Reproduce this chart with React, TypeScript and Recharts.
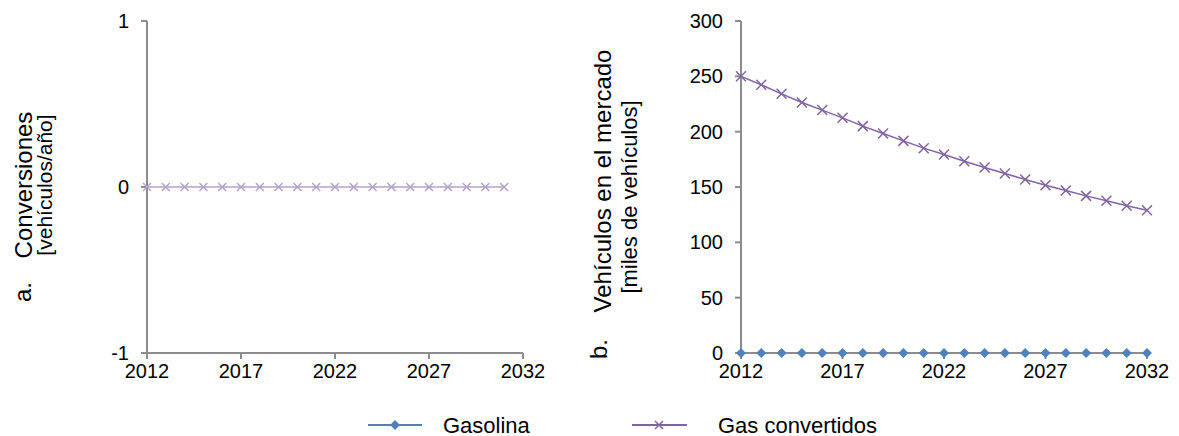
import React from 'react';
import { LineChart, Line, XAxis, YAxis } from 'recharts';

const conversionYears = [
  2012, 2013, 2014, 2015, 2016, 2017, 2018, 2019, 2020, 2021,
  2022, 2023, 2024, 2025, 2026, 2027, 2028, 2029, 2030, 2031,
];
const conversions = [0, 0, 0, 0, 0, 0, 0, 0, 0, 0, 0, 0, 0, 0, 0, 0, 0, 0, 0, 0];

const marketYears = [
  2012, 2013, 2014, 2015, 2016, 2017, 2018, 2019, 2020, 2021,
  2022, 2023, 2024, 2025, 2026, 2027, 2028, 2029, 2030, 2031, 2032,
];
const gasolina = [0, 0, 0, 0, 0, 0, 0, 0, 0, 0, 0, 0, 0, 0, 0, 0, 0, 0, 0, 0, 0];
const gasConvertidos = [
  250, 242.4, 234.2, 226.4, 219.5, 212.5, 205, 198.4, 191.7, 185.1,
  179.4, 173.3, 167.6, 162.2, 156.8, 151.6, 146.8, 142, 137.5, 133, 129,
];

const yearTicks = [2012, 2017, 2022, 2027, 2032];
const leftTicks = [-1, 0, 1];
const rightTicks = [0, 50, 100, 150, 200, 250, 300];

const leftData = conversionYears.map((year, i) => ({ year, conv: conversions[i] }));
const rightData = marketYears.map((year, i) => ({
  year,
  gasolina: gasolina[i],
  convertidos: gasConvertidos[i],
}));

const FONT = '"Liberation Sans", Arial, sans-serif';
const AXIS = '#8c8c8c';
const BLUE = '#4f81bd';
const PURPLE = '#8064a2';
const LAVENDER = '#b3a2c7';

const cross = (color: string, r: number) => (props: any) => {
  const { cx, cy, index } = props;
  if (cx == null || cy == null) return <g key={index} />;
  return (
    <path
      key={index}
      d={`M${cx - r},${cy - r}L${cx + r},${cy + r}M${cx - r},${cy + r}L${cx + r},${cy - r}`}
      stroke={color}
      strokeWidth={1.5}
      fill="none"
    />
  );
};

const diamond = (color: string, r: number) => (props: any) => {
  const { cx, cy, index } = props;
  if (cx == null || cy == null) return <g key={index} />;
  return (
    <polygon
      key={index}
      points={`${cx},${cy - r} ${cx + r},${cy} ${cx},${cy + r} ${cx - r},${cy}`}
      fill={color}
    />
  );
};

const tickStyle = { fontSize: 20, fill: '#000', fontFamily: FONT };

// axis titles sit at fixed spots in each chart's svg
const LeftTitle = () => (
  <g fontFamily={FONT} fill="#000">
    <text transform="translate(31,292) rotate(-90)" textAnchor="middle" fontSize={24}>a.</text>
    <text transform="translate(32,185) rotate(-90)" textAnchor="middle" fontSize={24}>Conversiones</text>
    <text transform="translate(52,185) rotate(-90)" textAnchor="middle" fontSize={21}>[vehículos/año]</text>
  </g>
);

const RightTitle = () => (
  <g fontFamily={FONT} fill="#000">
    <text transform="translate(47,349) rotate(-90)" textAnchor="middle" fontSize={24}>b.</text>
    <text transform="translate(51,181) rotate(-90)" textAnchor="middle" fontSize={24}>Vehículos en el mercado</text>
    <text transform="translate(77,197) rotate(-90)" textAnchor="middle" fontSize={22}>[miles de vehículos]</text>
  </g>
);

const Legend = () => (
  <svg width={1179} height={40} style={{ position: 'absolute', left: 0, top: 406 }}>
    <g fontFamily={FONT} fontSize={22} fill="#000">
      <line x1={368} y1={19} x2={422} y2={19} stroke={BLUE} strokeWidth={2} />
      <polygon points="395,14 400,19 395,24 390,19" fill={BLUE} />
      <text x={443} y={27}>Gasolina</text>
      <line x1={632} y1={19} x2={687} y2={19} stroke={PURPLE} strokeWidth={2} />
      <path d="M655,15L663,23M655,23L663,15" stroke={PURPLE} strokeWidth={1.5} />
      <text x={718} y={27}>Gas convertidos</text>
    </g>
  </svg>
);

export default function App() {
  return (
    <div style={{ position: 'absolute', left: 0, top: 0, width: 1179, height: 436, background: '#fff' }}>
      <div style={{ position: 'absolute', left: 0, top: 0 }}>
        <LineChart width={560} height={400} data={leftData} margin={{ top: 21, right: 37, bottom: 0, left: 0 }}>
          <XAxis
            dataKey="year"
            type="number"
            domain={[2012, 2032]}
            ticks={yearTicks}
            height={47}
            tick={tickStyle}
            tickMargin={5}
            axisLine={{ stroke: AXIS, strokeWidth: 2 }}
            tickLine={{ stroke: AXIS, strokeWidth: 2 }}
          />
          <YAxis
            type="number"
            domain={[-1, 1]}
            ticks={leftTicks}
            width={147}
            tick={tickStyle}
            tickMargin={12}
            axisLine={{ stroke: AXIS, strokeWidth: 2 }}
            tickLine={{ stroke: AXIS, strokeWidth: 2 }}
            label={{ content: () => <LeftTitle /> }}
          />
          <Line
            dataKey="conv"
            stroke={LAVENDER}
            strokeWidth={1.5}
            dot={cross(LAVENDER, 4)}
            isAnimationActive={false}
          />
        </LineChart>
      </div>
      <div style={{ position: 'absolute', left: 560, top: 0 }}>
        <LineChart width={619} height={400} data={rightData} margin={{ top: 21, right: 32, bottom: 0, left: 0 }}>
          <XAxis
            dataKey="year"
            type="number"
            domain={[2012, 2032]}
            ticks={yearTicks}
            height={47}
            tick={tickStyle}
            tickMargin={5}
            axisLine={{ stroke: AXIS, strokeWidth: 2 }}
            tickLine={{ stroke: AXIS, strokeWidth: 2 }}
          />
          <YAxis
            type="number"
            domain={[0, 300]}
            ticks={rightTicks}
            width={181}
            tick={tickStyle}
            tickMargin={12}
            axisLine={{ stroke: AXIS, strokeWidth: 2 }}
            tickLine={{ stroke: AXIS, strokeWidth: 2 }}
            label={{ content: () => <RightTitle /> }}
          />
          <Line
            dataKey="gasolina"
            stroke={BLUE}
            strokeWidth={2}
            dot={diamond(BLUE, 5)}
            isAnimationActive={false}
          />
          <Line
            dataKey="convertidos"
            stroke={PURPLE}
            strokeWidth={1.5}
            dot={cross(PURPLE, 5)}
            isAnimationActive={false}
          />
        </LineChart>
      </div>
      <Legend />
    </div>
  );
}
